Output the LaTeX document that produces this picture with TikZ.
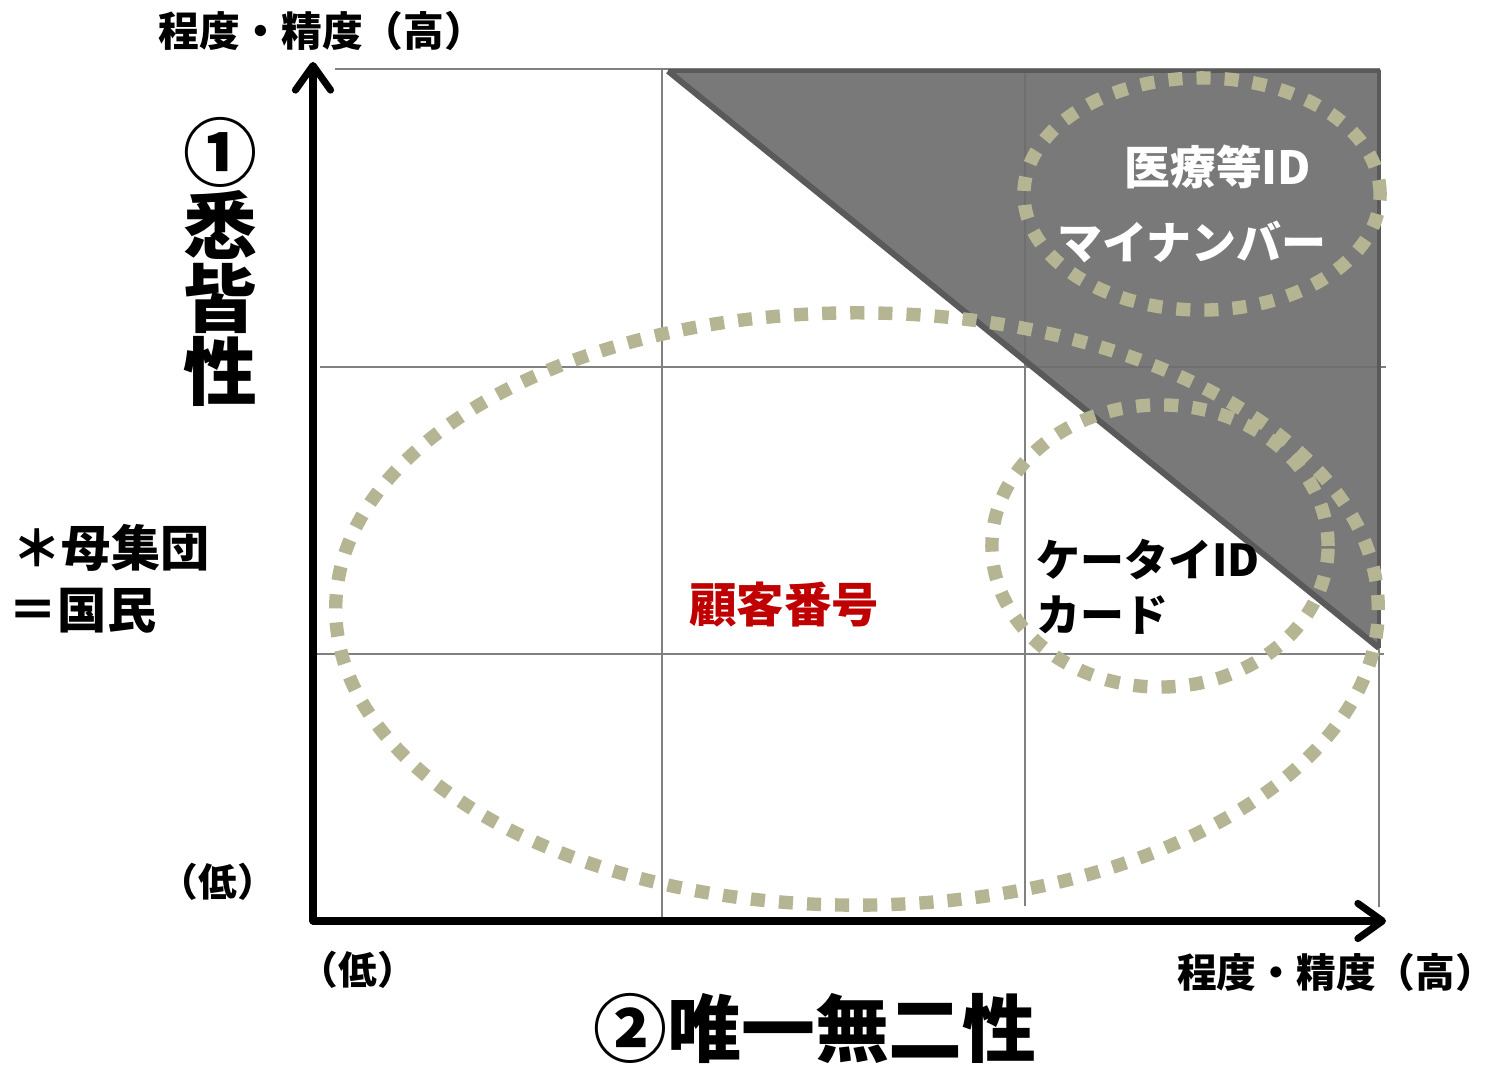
\documentclass[tikz,border=0pt]{standalone}
\usepackage{fontspec}
\newfontfamily\cjk{Noto Sans CJK JP}
\usetikzlibrary{arrows.meta}
\definecolor{gridc}{HTML}{808080}
\definecolor{tri}{HTML}{6E6E6E}
\definecolor{triedge}{HTML}{5A5A5A}
\definecolor{dotc}{HTML}{B5B594}
\definecolor{redc}{HTML}{C00000}
\begin{document}
\begin{tikzpicture}[x=0.01cm,y=-0.01cm,
  gridline/.style={draw=gridc, line width=0.7pt},
  axis/.style={line width=2pt, line cap=round, -{Straight Barb[length=7pt,width=10pt,round]}},
  ring/.style={draw=dotc, line width=3.8pt, dash pattern=on 4pt off 4pt},
  lbl/.style={inner sep=0pt, font=\cjk\bfseries},
]
\useasboundingbox[fill=white] (0,0) rectangle (1496,1065);
% grid coordinates
\coordinate (h1a) at (335,69);  \coordinate (h1b) at (1380,69);
\coordinate (h2a) at (320,367); \coordinate (h2b) at (1386,367);
\coordinate (h3a) at (316,654); \coordinate (h3b) at (1384,654);
\coordinate (v1a) at (662,68);  \coordinate (v1b) at (662,918);
\coordinate (v2a) at (1025,68); \coordinate (v2b) at (1025,906);
\coordinate (v3a) at (1379,68); \coordinate (v3b) at (1379,907);
\draw[gridline] (h1a) -- (h1b);
\draw[gridline] (h2a) -- (h2b);
\draw[gridline] (h3a) -- (h3b);
\draw[gridline] (v1a) -- (v1b);
\draw[gridline] (v2a) -- (v2b);
\draw[gridline] (v3a) -- (v3b);
% triangle
\coordinate (t1) at (668,71);
\coordinate (t2) at (1379,71);
\coordinate (t3) at (1379,648);
\fill[tri, fill opacity=0.92] (t1) -- (t2) -- (t3) -- cycle;
\draw[triedge, line width=1.1pt, line join=round] (t1) -- (t2) -- (t3);
\draw[triedge, line width=1.7pt] (t1) -- (t3);
% dotted ellipses
\draw[ring] (857,609) ellipse [x radius=5.21cm, y radius=2.96cm];
\draw[ring] (1202,194) ellipse [x radius=1.78cm, y radius=1.16cm];
\draw[ring] (1160,546) ellipse [x radius=1.68cm, y radius=1.41cm];
% axes
\coordinate (O) at (313,921);
\coordinate (ytip) at (313,62);
\coordinate (xtip) at (1386,921);
\draw[axis] (O) -- (ytip);
\draw[axis] (O) -- (xtip);
% texts
\node[lbl, font=\cjk\bfseries\fontsize{11.6}{14}\selectfont] (ytop) at (322,31) {程度・精度（高）};
\node[lbl, align=center, font=\cjk\bfseries\fontsize{21}{20.8}\selectfont] (ylab) at (220,262) {①\\悉\\皆\\性};
\node[lbl, anchor=west, font=\cjk\bfseries\fontsize{14}{16}\selectfont] (pop1) at (12,548) {＊母集団};
\node[lbl, anchor=west, font=\cjk\bfseries\fontsize{14}{16}\selectfont] (pop2) at (8,611) {＝国民};
\node[lbl, font=\cjk\bfseries\fontsize{11}{13}\selectfont] (ylow) at (218,882) {（低）};
\node[lbl, font=\cjk\bfseries\fontsize{11}{13}\selectfont] (xlow) at (358,970) {（低）};
\node[lbl, font=\cjk\bfseries\fontsize{11.3}{14}\selectfont] (xhigh) at (1336,972) {程度・精度（高）};
\node[lbl, font=\cjk\bfseries\fontsize{21}{24}\selectfont] (xlab) at (815,1028) {②唯一無二性};
\node[lbl, text=redc, font=\cjk\bfseries\fontsize{13.5}{16}\selectfont] (cust) at (784,605) {顧客番号};
\node[lbl, text=white, font=\cjk\bfseries\fontsize{13}{16}\selectfont] (med) at (1218,167) {医療等ID};
\node[lbl, text=white, font=\cjk\bfseries\fontsize{12.8}{16}\selectfont] (myn) at (1192,242) {マイナンバー};
\node[lbl, anchor=west, font=\cjk\bfseries\fontsize{12.5}{15}\selectfont] (k1) at (1036,560) {ケータイID};
\node[lbl, anchor=west, font=\cjk\bfseries\fontsize{12.5}{15}\selectfont] (k2) at (1036,615) {カード};
\end{tikzpicture}
\end{document}
